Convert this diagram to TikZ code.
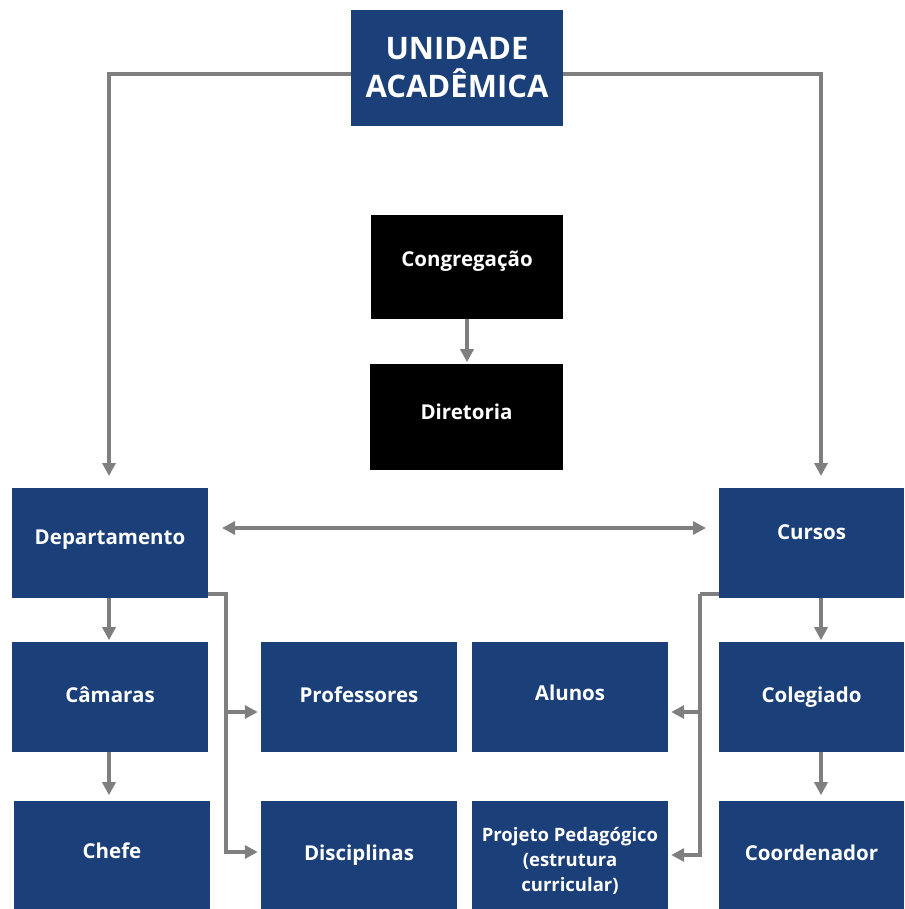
\documentclass[tikz,border=0pt]{standalone}
\usepackage{fontspec}
\setmainfont{Open Sans}
\usetikzlibrary{arrows.meta}
\definecolor{boxblue}{HTML}{1B3F78}
\definecolor{linegray}{HTML}{7F7F7F}
\begin{document}
\begin{tikzpicture}[x=1pt,y=-1pt,
  bx/.style={fill=boxblue,draw=none,text=white,font=\bfseries\fontsize{20.5}{24}\selectfont,align=center,inner sep=0pt},
  blk/.style={fill=black,draw=none,text=white,font=\bfseries\fontsize{20.5}{24}\selectfont,align=center,inner sep=0pt},
  conn/.style={draw=linegray,line width=3.4pt,-{Triangle[length=13pt,width=13pt]}},
  plain/.style={draw=linegray,line width=3.4pt}]
\useasboundingbox (0,0) rectangle (904,909);
% boxes
\node[bx,minimum width=212pt,minimum height=116pt,font=\bfseries\fontsize{31}{38}\selectfont] (ua) at (457,68) {UNIDADE\\ACADÊMICA};
\node[blk,minimum width=192pt,minimum height=104pt] (cong) at (467,267) {\raisebox{16pt}{Congregação}};
\node[blk,minimum width=193pt,minimum height=106pt] (dir) at (466.5,417) {\raisebox{10pt}{Diretoria}};
\node[bx,minimum width=196pt,minimum height=110pt] (dep) at (110,543) {\raisebox{12pt}{Departamento}};
\node[bx,minimum width=185pt,minimum height=110pt] (cur) at (811.5,543) {\raisebox{22pt}{Cursos}};
\node[bx,minimum width=196pt,minimum height=110pt] (cam) at (110,697) {\raisebox{4pt}{Câmaras}};
\node[bx,minimum width=196pt,minimum height=110pt] (prof) at (359,697) {\raisebox{4pt}{Professores}};
\node[bx,minimum width=196pt,minimum height=110pt] (alu) at (570,697) {\raisebox{8pt}{Alunos}};
\node[bx,minimum width=185pt,minimum height=110pt] (col) at (811.5,697) {\raisebox{4pt}{Colegiado}};
\node[bx,minimum width=196pt,minimum height=108pt] (chefe) at (112,855) {\raisebox{8pt}{Chefe}};
\node[bx,minimum width=196pt,minimum height=108pt] (disc) at (359,855) {Disciplinas};
\node[bx,minimum width=196pt,minimum height=108pt,font=\bfseries\fontsize{18.5}{25}\selectfont] (proj) at (570,855) {\raisebox{0pt}[\dimexpr\height+11pt\relax][\depth]{\parbox{196pt}{\centering Projeto Pedagógico\\(estrutura\\curricular)}}};
\node[bx,minimum width=185pt,minimum height=108pt] (coord) at (811.5,855) {\raisebox{4pt}{Coordenador}};
% coordinates
\coordinate (depin) at (109,476);
\coordinate (curin) at (821,476);
% connectors
\draw[conn] (ua.west |- 0,74) -| (depin);
\draw[conn] (ua.east |- 0,74) -| (curin);
\draw[conn] (cong.south) -- ++(0,43);
\draw[draw=linegray,line width=3.4pt,{Triangle[length=13pt,width=13pt]}-{Triangle[length=13pt,width=13pt]}] (222,528) -- (706,528);
\draw[conn] (dep.south -| 109,0) -- ++(0,42);
\draw[conn] (cam.south -| 109,0) -- ++(0,43);
\draw[conn] (cur.south -| 821,0) -- ++(0,42);
\draw[conn] (col.south -| 821,0) -- ++(0,43);
% department branches
\coordinate (dj) at (226,594);
\draw[plain] (dep.east |- dj) -- (dj) -- (226,712);
\draw[conn] (226,594) |- ([xshift=-3pt]disc.west |- 0,852);
\draw[conn] (226,712) -- ([xshift=-3pt]prof.west |- 0,712);
% cursos branches
\coordinate (cj) at (700,594);
\draw[plain] (cur.west |- cj) -- (cj);
\draw[conn] (cj) |- ([xshift=3pt]proj.east |- 0,855);
\draw[conn] (700,712) -- ([xshift=3pt]alu.east |- 0,712);
\end{tikzpicture}
\end{document}
